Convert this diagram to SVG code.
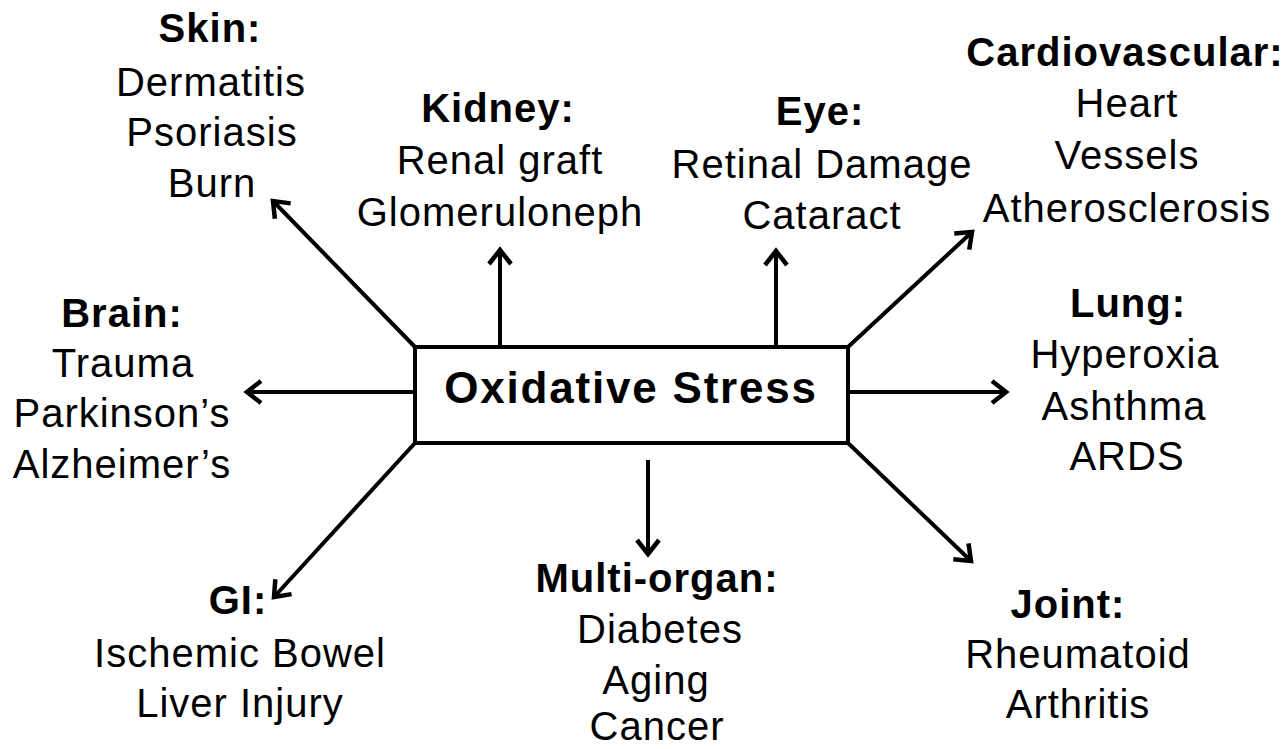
<svg xmlns="http://www.w3.org/2000/svg" width="1288" height="749" viewBox="0 0 1288 749">
<style>
text{font-family:"Liberation Sans",Arial,sans-serif;font-size:40px;fill:#000;text-anchor:middle;letter-spacing:1px}
.h{font-weight:bold}
.c{stroke:#000;stroke-width:4;fill:none}
.t{font-weight:bold;font-size:44px;letter-spacing:1.8px}
</style>
<defs>
<marker id="ah" markerUnits="userSpaceOnUse" markerWidth="40" markerHeight="40" viewBox="-20 -20 40 40" refX="0" refY="0" orient="auto">
<path d="M-14,-11 L0,0 L-14,11" fill="none" stroke="#000" stroke-width="4.5" stroke-linejoin="miter"/>
</marker>
</defs>
<rect width="1288" height="749" fill="#fff"/>
<g id="connectors" class="c" marker-end="url(#ah)">
<line x1="415" y1="347" x2="273" y2="201"/>
<line x1="500" y1="347" x2="500" y2="250"/>
<line x1="776" y1="347" x2="776" y2="251"/>
<line x1="848" y1="347" x2="972" y2="232"/>
<line x1="415" y1="392" x2="247" y2="392"/>
<line x1="848" y1="392" x2="1006" y2="392"/>
<line x1="415" y1="443" x2="274" y2="597"/>
<line x1="648" y1="460" x2="648" y2="554"/>
<line x1="848" y1="443" x2="971" y2="561"/>
</g>
<g id="center">
<rect x="415" y="347" width="433" height="96" fill="#fff" stroke="#000" stroke-width="4"/>
<text class="t" x="631" y="403">Oxidative Stress</text>
</g>
<g id="skin">
<text class="h" x="210" y="42">Skin:</text>
<text x="211" y="96">Dermatitis</text>
<text x="212" y="146">Psoriasis</text>
<text x="212" y="197">Burn</text>
</g>
<g id="kidney">
<text class="h" x="498" y="122">Kidney:</text>
<text x="500" y="174">Renal graft</text>
<text x="500" y="226">Glomeruloneph</text>
</g>
<g id="eye">
<text class="h" x="820" y="125">Eye:</text>
<text x="822" y="178">Retinal Damage</text>
<text x="822" y="229">Cataract</text>
</g>
<g id="cardiovascular">
<text class="h" x="1125" y="66">Cardiovascular:</text>
<text x="1127" y="117">Heart</text>
<text x="1127" y="169">Vessels</text>
<text x="1127" y="222">Atherosclerosis</text>
</g>
<g id="brain">
<text class="h" x="122" y="327">Brain:</text>
<text x="123" y="377">Trauma</text>
<text x="122" y="427">Parkinson’s</text>
<text x="122" y="478">Alzheimer’s</text>
</g>
<g id="lung">
<text class="h" x="1128" y="317">Lung:</text>
<text x="1125" y="368">Hyperoxia</text>
<text x="1124" y="420">Ashthma</text>
<text x="1127" y="470">ARDS</text>
</g>
<g id="gi">
<text class="h" x="238" y="614">GI:</text>
<text x="240" y="667">Ischemic Bowel</text>
<text x="240" y="717">Liver Injury</text>
</g>
<g id="multiorgan">
<text class="h" x="657" y="592">Multi-organ:</text>
<text x="660" y="643">Diabetes</text>
<text x="656" y="694">Aging</text>
<text x="657" y="740">Cancer</text>
</g>
<g id="joint">
<text class="h" x="1068" y="618">Joint:</text>
<text x="1078" y="668">Rheumatoid</text>
<text x="1078" y="718">Arthritis</text>
</g>
</svg>
